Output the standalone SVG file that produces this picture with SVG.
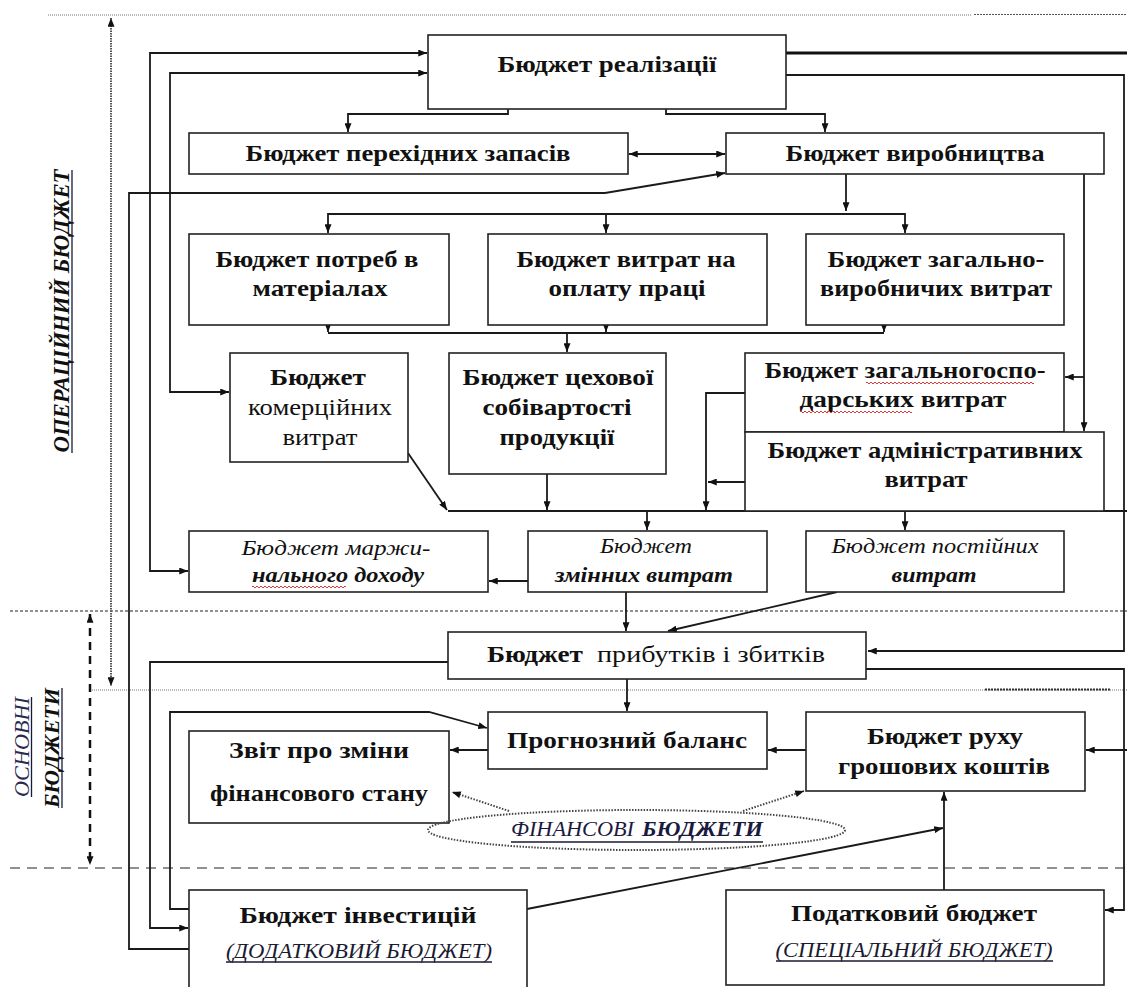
<svg xmlns="http://www.w3.org/2000/svg" width="1127" height="987" viewBox="0 0 1127 987" xml:space="preserve">
<style>
text{font-family:"Liberation Serif","Times New Roman",serif;fill:#111;text-anchor:middle}
.b{font-weight:bold;font-size:24px}
.r{font-size:24px}
.i{font-style:italic;font-size:22px}
.bi{font-style:italic;font-weight:bold;font-size:22px}
.s{font-style:italic;font-size:20px;fill:#1a1a30}
.box{fill:#fff;stroke:#222;stroke-width:1.6}
.c{fill:none;stroke:#1a1a1a;stroke-width:1.8}
.ul{stroke:#1a1a30;stroke-width:1.3}
.wv{fill:none;stroke:#e03a3a;stroke-width:1}
.dot{fill:none;stroke:#444;stroke-width:2;stroke-dasharray:1.5 1.5}
</style>
<defs>
<marker id="a" viewBox="0 0 10 8" refX="10" refY="4" markerWidth="9" markerHeight="7" markerUnits="userSpaceOnUse" orient="auto-start-reverse"><path d="M0,0 L10,4 L0,8 z" fill="#111"/></marker>
</defs>
<g id="guides">
<line x1="48" y1="15" x2="972" y2="15" stroke="#777" stroke-width="1" stroke-dasharray="1 1"/>
<line x1="974" y1="14.5" x2="1127" y2="14.5" stroke="#555" stroke-width="1" stroke-dasharray="2 1"/>
<line x1="10" y1="611" x2="1127" y2="611" stroke="#222" stroke-width="1" stroke-dasharray="3 2"/>
<line x1="90" y1="690" x2="1127" y2="690" stroke="#777" stroke-width="1" stroke-dasharray="1 1"/>
<line x1="985" y1="689.5" x2="1110" y2="689.5" stroke="#333" stroke-width="2" stroke-dasharray="2 1"/>
<line x1="10" y1="868" x2="1127" y2="868" stroke="#222" stroke-width="1.2" stroke-dasharray="10 7"/>
<path d="M111,18 L111,686" fill="none" stroke="#555" stroke-width="2" stroke-dasharray="1.5 1" marker-start="url(#a)" marker-end="url(#a)"/>
<path d="M90,614 L90,865" fill="none" stroke="#111" stroke-width="2.5" stroke-dasharray="8 6" marker-start="url(#a)" marker-end="url(#a)"/>
<text class="bi" style="font-size:24px" transform="translate(69,311) rotate(-90)" textLength="283" lengthAdjust="spacingAndGlyphs">ОПЕРАЦІЙНИЙ БЮДЖЕТ</text>
<line class="ul" x1="72" y1="170" x2="72" y2="453"/>
<text class="i" style="fill:#2a2a50" transform="translate(29,747) rotate(-90)" textLength="100" lengthAdjust="spacingAndGlyphs">ОСНОВНІ</text>
<line class="ul" x1="31.5" y1="697" x2="31.5" y2="797"/>
<text class="bi" transform="translate(59,748) rotate(-90)" textLength="120" lengthAdjust="spacingAndGlyphs">БЮДЖЕТИ</text>
<line class="ul" x1="62" y1="688" x2="62" y2="808"/>
</g>
<g id="connectors">
<line x1="786" y1="53" x2="1127" y2="53" stroke="#111" stroke-width="3"/>
<path class="c" d="M786,75 L1124,75 L1124,651 L868,651" marker-end="url(#a)"/>
<path class="c" d="M348,132 L348,114 L508,114 L508,96" marker-start="url(#a)" marker-end="url(#a)"/>
<path class="c" d="M666,96 L666,114 L825,114 L825,132" marker-start="url(#a)" marker-end="url(#a)"/>
<path class="c" d="M629,154 L725,154" marker-start="url(#a)" marker-end="url(#a)"/>
<path class="c" d="M189,949 L129,949 L129,193 L605,193 L725,173" marker-end="url(#a)"/>
<path class="c" d="M188,571 L150,571 L150,53 L427,53" marker-start="url(#a)" marker-end="url(#a)"/>
<path class="c" d="M229,392 L170,392 L170,73 L427,73" marker-start="url(#a)" marker-end="url(#a)"/>
<path class="c" d="M846,174 L846,211" marker-end="url(#a)"/>
<path class="c" d="M328,233 L328,214 L905,214 L905,233" marker-start="url(#a)" marker-end="url(#a)"/>
<path class="c" d="M606,214 L606,233" marker-end="url(#a)"/>
<path class="c" d="M328,315 L328,332" marker-end="url(#a)"/>
<path class="c" d="M606,315 L606,332" marker-end="url(#a)"/>
<path class="c" d="M884,315 L884,332" marker-end="url(#a)"/>
<path class="c" d="M328,333 L884,333"/>
<path class="c" d="M567,333 L567,352" marker-end="url(#a)"/>
<path class="c" d="M408,453 L447,510" marker-end="url(#a)"/>
<path class="c" d="M547,474 L547,510" marker-end="url(#a)"/>
<path class="c" d="M745,393 L706,393 L706,510" marker-end="url(#a)"/>
<path class="c" d="M745,482 L708,482" marker-end="url(#a)"/>
<path class="c" d="M1084,174 L1084,431" marker-end="url(#a)"/>
<path class="c" d="M1084,377 L1065,377" marker-end="url(#a)"/>
<path class="c" d="M448,511 L1127,511"/>
<path class="c" d="M647,511 L647,530" marker-end="url(#a)"/>
<path class="c" d="M905,511 L905,530" marker-end="url(#a)"/>
<path class="c" d="M528,581 L489,581" marker-end="url(#a)"/>
<path class="c" d="M626,592 L626,631" marker-end="url(#a)"/>
<path class="c" d="M837,592 L668,631" marker-end="url(#a)"/>
<path class="c" d="M448,662 L150,662 L150,928 L188,928" marker-end="url(#a)"/>
<path class="c" d="M866,669 L1124,669 L1124,910 L1105,910" marker-end="url(#a)"/>
<path class="c" d="M627,679 L627,711" marker-end="url(#a)"/>
<path class="c" d="M189,909 L170,909 L170,712 L429,712 L487,728" marker-end="url(#a)"/>
<path class="c" d="M488,750 L450,750" marker-end="url(#a)"/>
<path class="c" d="M806,750 L768,750" marker-end="url(#a)"/>
<path class="c" d="M1127,750 L1086,750" marker-end="url(#a)"/>
<path class="c" d="M944,890 L944,792" marker-end="url(#a)"/>
<path class="c" d="M527,909 L943,828" marker-end="url(#a)"/>
<path class="dot" d="M509,811 L452,792" marker-end="url(#a)"/>
<path class="dot" d="M743,811 L804,791" marker-end="url(#a)"/>
</g>
<g id="n-realizatsii"><rect class="box" x="428" y="35" width="358" height="74"/>
<text class="b" x="607" y="72" textLength="219" lengthAdjust="spacingAndGlyphs">Бюджет реалізації</text></g>
<g id="n-perekhidnykh"><rect class="box" x="189" y="133" width="439" height="41"/>
<text class="b" x="408" y="161" textLength="325" lengthAdjust="spacingAndGlyphs">Бюджет перехідних запасів</text></g>
<g id="n-vyrobnytstva"><rect class="box" x="726" y="133" width="378" height="41"/>
<text class="b" x="915" y="161" textLength="259" lengthAdjust="spacingAndGlyphs">Бюджет виробництва</text></g>
<g id="n-materialy"><rect class="box" x="189" y="234" width="260" height="91"/>
<text class="b" x="317" y="267" textLength="203" lengthAdjust="spacingAndGlyphs">Бюджет потреб в</text>
<text class="b" x="320" y="296" textLength="135" lengthAdjust="spacingAndGlyphs">матеріалах</text></g>
<g id="n-pratsia"><rect class="box" x="488" y="234" width="279" height="91"/>
<text class="b" x="626" y="267" textLength="219" lengthAdjust="spacingAndGlyphs">Бюджет витрат на</text>
<text class="b" x="627" y="296" textLength="157" lengthAdjust="spacingAndGlyphs">оплату праці</text></g>
<g id="n-zahalnovyrobnychi"><rect class="box" x="806" y="234" width="258" height="91"/>
<text class="b" x="936" y="267" textLength="217" lengthAdjust="spacingAndGlyphs">Бюджет загально-</text>
<text class="b" x="936" y="296" textLength="232" lengthAdjust="spacingAndGlyphs">виробничих витрат</text></g>
<g id="n-komertsiini"><rect class="box" x="230" y="353" width="178" height="109"/>
<text class="b" x="318" y="385" textLength="96" lengthAdjust="spacingAndGlyphs">Бюджет</text>
<text class="r" x="320" y="415" textLength="144" lengthAdjust="spacingAndGlyphs">комерційних</text>
<text class="r" x="320" y="445" textLength="75" lengthAdjust="spacingAndGlyphs">витрат</text></g>
<g id="n-tsekhova"><rect class="box" x="449" y="353" width="217" height="121"/>
<text class="b" x="558" y="385" textLength="191" lengthAdjust="spacingAndGlyphs">Бюджет цехової</text>
<text class="b" x="557" y="415" textLength="149" lengthAdjust="spacingAndGlyphs">собівартості</text>
<text class="b" x="557" y="445" textLength="115" lengthAdjust="spacingAndGlyphs">продукції</text></g>
<g id="n-zahalnohospodarski"><rect class="box" x="745" y="353" width="319" height="79"/>
<text class="b" x="905" y="378" textLength="281" lengthAdjust="spacingAndGlyphs">Бюджет загальногоспо-</text>
<text class="b" x="903" y="407" textLength="207" lengthAdjust="spacingAndGlyphs">дарських  витрат</text>
<path class="wv" d="M866,383 q1,-2 2,0 t2,0 t2,0 t2,0 t2,0 t2,0 t2,0 t2,0 t2,0 t2,0 t2,0 t2,0 t2,0 t2,0 t2,0 t2,0 t2,0 t2,0 t2,0 t2,0 t2,0 t2,0 t2,0 t2,0 t2,0 t2,0 t2,0 t2,0 t2,0 t2,0 t2,0 t2,0 t2,0 t2,0 t2,0 t2,0 t2,0 t2,0 t2,0 t2,0 t2,0 t2,0 t2,0 t2,0 t2,0 t2,0 t2,0 t2,0 t2,0 t2,0 t2,0 t2,0 t2,0 t2,0 t2,0 t2,0 t2,0 t2,0 t2,0 t2,0 t2,0 t2,0 t2,0 t2,0 t2,0 t2,0 t2,0 t2,0 t2,0 t2,0 t2,0 t2,0 t2,0 t2,0 t2,0 t2,0 t2,0 t2,0 t2,0 t2,0 t2,0 t2,0 t2,0 t2,0"/>
<path class="wv" d="M800,412 q1,-2 2,0 t2,0 t2,0 t2,0 t2,0 t2,0 t2,0 t2,0 t2,0 t2,0 t2,0 t2,0 t2,0 t2,0 t2,0 t2,0 t2,0 t2,0 t2,0 t2,0 t2,0 t2,0 t2,0 t2,0 t2,0 t2,0 t2,0 t2,0 t2,0 t2,0 t2,0 t2,0 t2,0 t2,0 t2,0 t2,0 t2,0 t2,0 t2,0 t2,0 t2,0 t2,0 t2,0 t2,0 t2,0 t2,0 t2,0 t2,0 t2,0 t2,0 t2,0 t2,0 t2,0 t2,0 t2,0 t2,0"/></g>
<g id="n-administratyvni"><rect class="box" x="745" y="432" width="359" height="79"/>
<text class="b" x="925" y="458" textLength="315" lengthAdjust="spacingAndGlyphs">Бюджет адміністративних</text>
<text class="b" x="926" y="487" textLength="83" lengthAdjust="spacingAndGlyphs">витрат</text></g>
<g id="n-marzhynalnyi"><rect class="box" x="189" y="531" width="299" height="61"/>
<text class="i" x="336" y="555" textLength="189" lengthAdjust="spacingAndGlyphs">Бюджет  маржи-</text>
<text class="bi" x="338" y="582" textLength="172" lengthAdjust="spacingAndGlyphs">нального доходу</text>
<path class="wv" d="M252,587 q1,-2 2,0 t2,0 t2,0 t2,0 t2,0 t2,0 t2,0 t2,0 t2,0 t2,0 t2,0 t2,0 t2,0 t2,0 t2,0 t2,0 t2,0 t2,0 t2,0 t2,0 t2,0 t2,0 t2,0 t2,0 t2,0 t2,0 t2,0 t2,0 t2,0 t2,0 t2,0 t2,0 t2,0 t2,0 t2,0 t2,0 t2,0 t2,0 t2,0 t2,0 t2,0 t2,0 t2,0 t2,0 t2,0 t2,0 t2,0"/></g>
<g id="n-zminni"><rect class="box" x="528" y="531" width="239" height="61"/>
<text class="i" x="646" y="553" textLength="92" lengthAdjust="spacingAndGlyphs">Бюджет</text>
<text class="bi" x="644" y="582" textLength="178" lengthAdjust="spacingAndGlyphs">змінних витрат</text></g>
<g id="n-postiini"><rect class="box" x="806" y="531" width="258" height="61"/>
<text class="i" x="935" y="553" textLength="207" lengthAdjust="spacingAndGlyphs">Бюджет постійних</text>
<text class="bi" x="934" y="582" textLength="85" lengthAdjust="spacingAndGlyphs">витрат</text></g>
<g id="n-prybutky"><rect class="box" x="448" y="632" width="418" height="47"/>
<text class="b" x="535" y="662" textLength="96" lengthAdjust="spacingAndGlyphs">Бюджет</text>
<text class="r" x="711" y="662" textLength="228" lengthAdjust="spacingAndGlyphs">прибутків і  збитків</text></g>
<g id="n-balans"><rect class="box" x="488" y="712" width="279" height="57"/>
<text class="b" x="627" y="748" textLength="240" lengthAdjust="spacingAndGlyphs">Прогнозний  баланс</text></g>
<g id="n-zvit"><rect class="box" x="189" y="731" width="260" height="92"/>
<text class="b" x="319" y="758" textLength="180" lengthAdjust="spacingAndGlyphs">Звіт  про зміни</text>
<text class="b" x="319" y="801" textLength="218" lengthAdjust="spacingAndGlyphs">фінансового стану</text></g>
<g id="n-rukh"><rect class="box" x="806" y="712" width="279" height="79"/>
<text class="b" x="945" y="744" textLength="156" lengthAdjust="spacingAndGlyphs">Бюджет руху</text>
<text class="b" x="944" y="774" textLength="212" lengthAdjust="spacingAndGlyphs">грошових коштів</text></g>
<g id="n-finansovi">
<ellipse cx="636.5" cy="830" rx="208.5" ry="20" class="dot"/>
<text class="i" style="fill:#1a1a40" x="572.5" y="836" textLength="123" lengthAdjust="spacingAndGlyphs">ФІНАНСОВІ</text>
<text class="bi" style="fill:#1a1a40" x="702.5" y="836" textLength="121" lengthAdjust="spacingAndGlyphs">БЮДЖЕТИ</text>
<line class="ul" x1="511" y1="842" x2="763" y2="842"/></g>
<g id="n-investytsii"><rect class="box" x="189" y="890" width="338" height="120"/>
<text class="b" x="358" y="923" textLength="237" lengthAdjust="spacingAndGlyphs">Бюджет  інвестицій</text>
<text class="s" x="359" y="958" textLength="266" lengthAdjust="spacingAndGlyphs">(ДОДАТКОВИЙ БЮДЖЕТ)</text>
<line class="ul" x1="226" y1="962" x2="492" y2="962"/></g>
<g id="n-podatkovyi"><rect class="box" x="726" y="890" width="378" height="95"/>
<text class="b" x="914" y="921" textLength="246" lengthAdjust="spacingAndGlyphs">Податковий бюджет</text>
<text class="s" x="914" y="957" textLength="277" lengthAdjust="spacingAndGlyphs">(СПЕЦІАЛЬНИЙ БЮДЖЕТ)</text>
<line class="ul" x1="776" y1="961" x2="1053" y2="961"/></g>
</svg>
